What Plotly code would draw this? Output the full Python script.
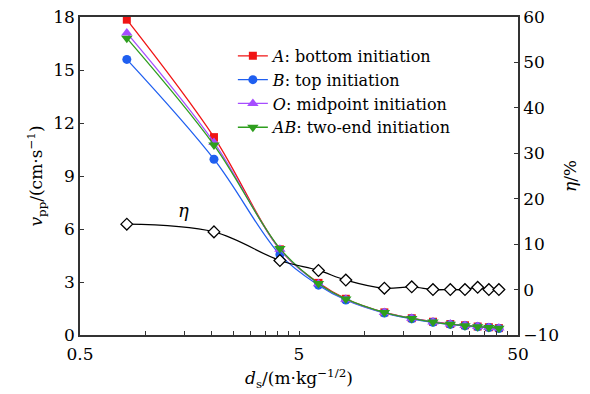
import plotly.graph_objects as go

ds = [0.818, 2.045, 4.09, 6.135, 8.18, 12.27, 16.36, 20.45, 24.54, 28.63, 32.72, 36.81, 40.9]
v_A = [17.85, 11.2, 4.85, 2.95, 2.05, 1.28, 0.95, 0.75, 0.62, 0.55, 0.48, 0.44, 0.39]
v_B = [15.6, 9.95, 4.55, 2.82, 1.98, 1.24, 0.92, 0.72, 0.60, 0.52, 0.46, 0.42, 0.37]
v_O = [17.1, 10.9, 4.85, 2.90, 2.02, 1.27, 0.95, 0.74, 0.62, 0.54, 0.48, 0.43, 0.39]
v_AB = [16.8, 10.75, 4.9, 2.92, 2.04, 1.27, 0.94, 0.73, 0.61, 0.53, 0.47, 0.43, 0.38]
eta = [14.4, 12.7, 6.4, 4.2, 2.1, 0.3, 0.6, 0.0, 0.0, 0.0, 0.5, 0.0, 0.0]

names = ["<i>A</i>: bottom initiation", "<i>B</i>: top initiation",
         "<i>O</i>: midpoint initiation", "<i>AB</i>: two-end initiation"]
colors = ["#f01414", "#1f5ff0", "#a64dff", "#2e9e1e"]
symbols = ["square", "circle", "triangle-up", "triangle-down"]
sizes = [8, 9, 10, 10]
series = [v_A, v_B, v_O, v_AB]

FONT = "DejaVu Serif"
fig = go.Figure()

fig.add_trace(go.Scatter(
    x=ds, y=eta, yaxis="y2", mode="lines+markers", showlegend=False,
    line=dict(color="black", width=1.3, shape="spline"),
    marker=dict(symbol="diamond", size=9, color="white", line=dict(color="black", width=1.3)),
))

for n, c, s, sz, v in zip(names, colors, symbols, sizes, series):
    fig.add_trace(go.Scatter(
        x=ds, y=v, mode="lines+markers", name=n,
        line=dict(color=c, width=1.3, shape="spline"),
        marker=dict(symbol=s, size=sz, color=c),
    ))

fig.add_annotation(x=0.17, y=17.5, xref="x", yref="y2", text="<i>η</i>",
                   showarrow=False, font=dict(family=FONT, size=18, color="black"))

axis_common = dict(showline=True, linecolor="#333", linewidth=1.5, ticks="inside",
                   ticklen=4, tickcolor="#333", showgrid=False, zeroline=False,
                   automargin=False,
                   tickfont=dict(family=FONT, size=17, color="black"))

fig.update_layout(
    width=590, height=394,
    margin=dict(l=80, r=72, t=17, b=59),
    plot_bgcolor="white", paper_bgcolor="white",
    font=dict(family=FONT, size=17, color="black"),
    xaxis=dict(type="log", range=[-0.30103, 1.69897], tickvals=[0.5, 5, 50],
               ticktext=["0.5", "5", "50"], mirror=True, ticklabelstandoff=3,
               minor=dict(tickmode="array",
                          tickvals=[1, 1.5, 2, 2.5, 3, 3.5, 4, 4.5, 10, 15, 20, 25, 30, 35, 40, 45],
                          ticks="inside", ticklen=4, tickcolor="#333"),
               title=dict(text="<i>d</i><sub>s</sub>/(m·kg<sup>−1/2</sup>)",
                          font=dict(family=FONT, size=17), standoff=9),
               **axis_common),
    yaxis=dict(range=[0, 18], dtick=3,
               title=dict(text="<i>v</i><sub>pp</sub>/(cm·s<sup>−1</sup>)",
                          font=dict(family=FONT, size=17), standoff=6),
               **axis_common),
    yaxis2=dict(range=[-10, 60], dtick=10, overlaying="y", side="right",
                title=dict(text="<i>η</i>/%", font=dict(family=FONT, size=17), standoff=6),
                **axis_common),
    legend=dict(x=0.349, y=0.931, xanchor="left", yanchor="top",
                font=dict(family=FONT, size=16, color="black"),
                bgcolor="rgba(0,0,0,0)", tracegroupgap=0, itemwidth=30),
)

fig.write_html("out.html")
